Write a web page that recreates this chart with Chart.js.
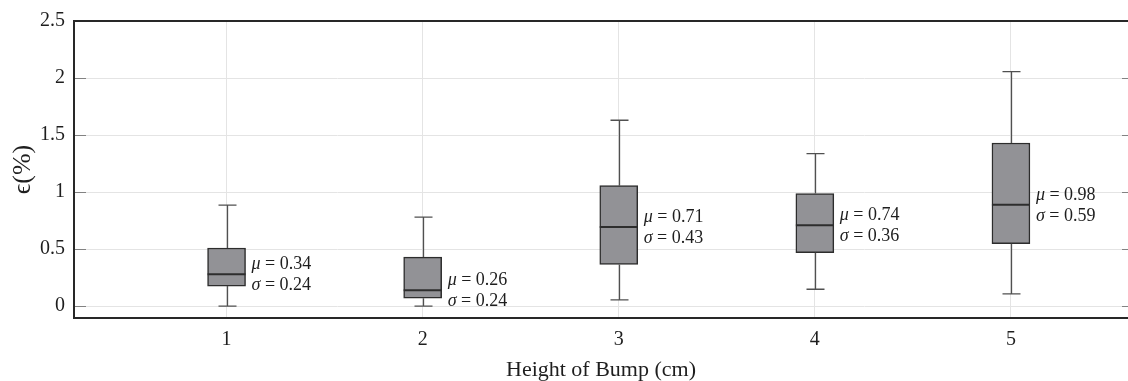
<!DOCTYPE html>
<html>
<head>
<meta charset="utf-8">
<title>Height of Bump</title>
<script src="https://cdn.jsdelivr.net/npm/chart.js@4.4.0/dist/chart.umd.min.js"></script>
<style>
    html, body { margin: 0; padding: 0; background: #fff; overflow: hidden; }
    #wrap { width: 1128px; height: 381px; }
</style>
</head>
<body>
<div id="wrap"><canvas id="bumpChart" width="1128" height="381"></canvas></div>
<script>
// values
const BUMP_HEIGHTS = [1, 2, 3, 4, 5];
const WHISKER_LOW = [0.00, 0.00, 0.055, 0.148, 0.107];
const QUARTILE_1 = [0.176, 0.07, 0.365, 0.469, 0.547];
const MEDIANS = [0.28, 0.14, 0.694, 0.709, 0.888];
const QUARTILE_3 = [0.51, 0.43, 1.056, 0.987, 1.43];
const WHISKER_HIGH = [0.885, 0.78, 1.63, 1.337, 2.057];
const MEANS = [0.34, 0.26, 0.71, 0.74, 0.98];
const STD_DEVS = [0.24, 0.24, 0.43, 0.36, 0.59];
const Y_TICKS = [0, 0.5, 1, 1.5, 2, 2.5];

const SERIF = "'Liberation Serif', 'DejaVu Serif', serif";
const TEXT_COLOR = 'rgba(30, 30, 30, 1)';
const BOX_FILL = 'rgba(146, 146, 150, 1)';
const BOX_EDGE = 'rgba(45, 45, 45, 1)';
const WHISKER_COLOR = 'rgba(80, 80, 80, 1)';
const GRID_COLOR = 'rgba(228, 228, 228, 1)';
const FRAME_COLOR = 'rgba(40, 40, 40, 1)';
const TICK_MARK_COLOR = 'rgba(130, 130, 130, 1)';

function drawStat(ctx, symbol, value, x, y) {
    ctx.font = 'italic 18px ' + SERIF;
    ctx.fillText(symbol, x, y);
    var w = ctx.measureText(symbol).width;
    ctx.font = '18px ' + SERIF;
    ctx.fillText(' = ' + value.toFixed(2), x + w, y);
}

var boxPlotPlugin = {
    id: 'boxPlot',
    afterDatasetsDraw: function (chart) {
        var ctx = chart.ctx;
        var yScale = chart.scales.y;
        var area = chart.chartArea;
        var meta = chart.getDatasetMeta(0);
        ctx.save();
        meta.data.forEach(function (bar, i) {
            var cx = Math.round(bar.x) + 0.5;
            var half = bar.width / 2;
            var yLow = yScale.getPixelForValue(WHISKER_LOW[i]);
            var yQ1 = yScale.getPixelForValue(QUARTILE_1[i]);
            var yMed = yScale.getPixelForValue(MEDIANS[i]);
            var yQ3 = yScale.getPixelForValue(QUARTILE_3[i]);
            var yHigh = yScale.getPixelForValue(WHISKER_HIGH[i]);

            // whiskers and caps
            ctx.strokeStyle = WHISKER_COLOR;
            ctx.lineWidth = 1.3;
            ctx.beginPath();
            ctx.moveTo(cx, yQ3);
            ctx.lineTo(cx, yHigh);
            ctx.moveTo(cx, yQ1);
            ctx.lineTo(cx, yLow);
            ctx.moveTo(cx - 9, yHigh);
            ctx.lineTo(cx + 9, yHigh);
            ctx.moveTo(cx - 9, yLow);
            ctx.lineTo(cx + 9, yLow);
            ctx.stroke();

            // median
            ctx.strokeStyle = BOX_EDGE;
            ctx.lineWidth = 2;
            ctx.beginPath();
            ctx.moveTo(bar.x - half, yMed);
            ctx.lineTo(bar.x + half, yMed);
            ctx.stroke();

            // mean / std labels
            ctx.fillStyle = TEXT_COLOR;
            ctx.textBaseline = 'middle';
            ctx.textAlign = 'left';
            var tx = bar.x + half + 6;
            drawStat(ctx, 'μ', MEANS[i], tx, yMed - 10);
            drawStat(ctx, 'σ', STD_DEVS[i], tx, yMed + 11);
        });

        // inner tick marks on left and right
        ctx.strokeStyle = TICK_MARK_COLOR;
        ctx.lineWidth = 1;
        ctx.beginPath();
        Y_TICKS.forEach(function (v) {
            var py = Math.round(yScale.getPixelForValue(v)) + 0.5;
            ctx.moveTo(area.left, py);
            ctx.lineTo(area.left + 12, py);
            ctx.moveTo(area.right - 6, py);
            ctx.lineTo(area.right, py);
        });
        ctx.stroke();

        // frame
        ctx.strokeStyle = FRAME_COLOR;
        ctx.lineWidth = 2;
        ctx.beginPath();
        ctx.moveTo(area.right, area.top);
        ctx.lineTo(area.left, area.top);
        ctx.lineTo(area.left, area.bottom);
        ctx.lineTo(area.right, area.bottom);
        ctx.stroke();
        ctx.restore();
    }
};

var boxData = BUMP_HEIGHTS.map(function (h, i) {
    return { x: h, y: [QUARTILE_1[i], QUARTILE_3[i]] };
});

var config = {
    type: 'bar',
    data: {
        datasets: [{
            label: 'Box',
            data: boxData,
            backgroundColor: BOX_FILL,
            borderColor: BOX_EDGE,
            borderWidth: 1.5,
            borderSkipped: false,
            barThickness: 38
        }]
    },
    options: {
        responsive: false,
        animation: false,
        devicePixelRatio: 1,
        layout: { padding: { top: 18, right: 0, bottom: 0, left: 0 } },
        plugins: {
            legend: { display: false },
            tooltip: { enabled: false }
        },
        scales: {
            x: {
                type: 'linear',
                offset: false,
                min: 0.222,
                max: 5.597,
                afterBuildTicks: function (scale) {
                    scale.ticks = BUMP_HEIGHTS.map(function (v) { return { value: v }; });
                },
                afterFit: function (scale) { scale.height = 63; },
                ticks: {
                    color: TEXT_COLOR,
                    padding: 10,
                    font: { family: SERIF, size: 20 },
                    callback: function (v) { return String(v); }
                },
                grid: { color: GRID_COLOR, drawTicks: false, offset: false },
                border: { display: false },
                title: {
                    display: true,
                    text: 'Height of Bump (cm)',
                    color: TEXT_COLOR,
                    font: { family: SERIF, size: 22, lineHeight: 1 },
                    padding: { top: 0, bottom: 0 }
                }
            },
            y: {
                min: -0.104,
                max: 2.5,
                afterBuildTicks: function (scale) {
                    scale.ticks = Y_TICKS.map(function (v) { return { value: v }; });
                },
                afterFit: function (scale) { scale.width = 74; },
                ticks: {
                    color: TEXT_COLOR,
                    padding: 9,
                    font: { family: SERIF, size: 20 },
                    callback: function (v) { return String(v); }
                },
                grid: { color: GRID_COLOR, drawTicks: false },
                border: { display: false },
                title: {
                    display: true,
                    text: 'ϵ(%)',
                    color: TEXT_COLOR,
                    font: { family: SERIF, size: 26, lineHeight: 1 },
                    padding: { top: 10, bottom: 0 }
                }
            }
        }
    },
    plugins: [boxPlotPlugin]
};

new Chart(document.getElementById('bumpChart').getContext('2d'), config);
</script>
</body>
</html>
